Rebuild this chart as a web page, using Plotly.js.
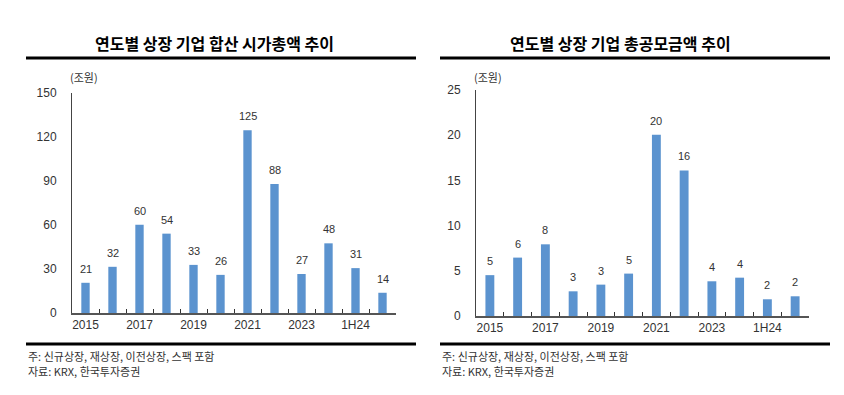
<!DOCTYPE html>
<html>
<head>
<meta charset="utf-8">
<script src="https://cdn.plot.ly/plotly-3.0.1.min.js"></script>
<style>html,body{margin:0;padding:0;background:#fff;}#chart{width:844px;height:395px;}</style>
</head>
<body>
<div id="chart"></div>
<script>
// ---- data ----
const categories = ['2015','2016','2017','2018','2019','2020','2021','2022','2023','2024','1H24','1H25'];
const tickLabels = ['2015','','2017','','2019','','2021','','2023','','1H24',''];
const marketCap = [20.6, 31.5, 60.2, 54.1, 32.8, 26.0, 124.6, 88.0, 26.6, 47.5, 30.6, 13.8];
const ipoAmount = [4.52, 6.46, 7.93, 2.73, 3.47, 4.69, 20.04, 16.1, 3.84, 4.24, 1.85, 2.18];
const leftTitle = '연도별 상장 기업 합산 시가총액 추이';
const rightTitle = '연도별 상장 기업 총공모금액 추이';
const unitLabel = '(조원)';
const note1 = '주: 신규상장, 재상장, 이전상장, 스팩 포함';
const note2 = '자료: KRX, 한국투자증권';

const BAR = '#5b93cf';
const NUM_FONT = 'Liberation Sans, Arial, sans-serif';
const KR_FONT = 'Noto Sans CJK KR, sans-serif';

const traces = [
  {type:'bar', x:categories, y:marketCap, xaxis:'x', yaxis:'y', width:0.31,
   marker:{color:BAR}, hoverinfo:'skip'},
  {type:'bar', x:categories, y:ipoAmount, xaxis:'x2', yaxis:'y2', width:0.32,
   marker:{color:BAR}, hoverinfo:'skip'}
];

const idx = categories.map((c,i)=>i);

function xAxis(domain, anchor){
  return {domain:domain, anchor:anchor, type:'category', autorange:false,
    range:[-0.5, categories.length-0.5],
    categoryorder:'array', categoryarray:categories,
    tickmode:'array', tickvals:idx, ticktext:tickLabels, tickangle:0,
    tickson:'boundaries', ticks:'inside', ticklen:4, tickcolor:'#333', tickwidth:1,
    showline:true, linecolor:'#555', linewidth:1.5, showgrid:false, zeroline:false,
    tickfont:{family:NUM_FONT, size:12, color:'#333'}, fixedrange:true};
}
function yAxis(domain, anchor, range, dtick){
  return {domain:domain, anchor:anchor, range:range, autorange:false, dtick:dtick, tick0:0,
    showline:true, linecolor:'#444', linewidth:1, showgrid:false, zeroline:false,
    ticks:'', ticklabelstandoff:12,
    tickfont:{family:NUM_FONT, size:12, color:'#333'}, fixedrange:true};
}

const annotations = [];
marketCap.forEach((v,i)=>annotations.push({x:i, y:v, xref:'x', yref:'y',
  text:String(Math.round(v)), showarrow:false, yshift:14,
  font:{family:NUM_FONT, size:11, color:'#333'}}));
ipoAmount.forEach((v,i)=>annotations.push({x:i, y:v, xref:'x2', yref:'y2',
  text:String(Math.round(v)), showarrow:false, yshift:14,
  font:{family:NUM_FONT, size:11, color:'#333'}}));

annotations.push(
  {xref:'paper', yref:'paper', x:0.2536, y:1-43/395, text:'<b>'+leftTitle+'</b>', showarrow:false,
   xanchor:'center', yanchor:'middle', font:{family:KR_FONT, size:16, color:'#000'}},
  {xref:'paper', yref:'paper', x:0.7346, y:1-43/395, text:'<b>'+rightTitle+'</b>', showarrow:false,
   xanchor:'center', yanchor:'middle', font:{family:KR_FONT, size:16, color:'#000'}},
  {xref:'paper', yref:'paper', x:68/844, y:1-77/395, text:unitLabel, showarrow:false,
   xanchor:'left', yanchor:'middle', font:{family:KR_FONT, size:11, color:'#333'}},
  {xref:'paper', yref:'paper', x:472/844, y:1-77/395, text:unitLabel, showarrow:false,
   xanchor:'left', yanchor:'middle', font:{family:KR_FONT, size:11, color:'#333'}},
  {xref:'paper', yref:'paper', x:26/844, y:1-356/395, text:note1, showarrow:false,
   xanchor:'left', yanchor:'middle', font:{family:KR_FONT, size:11, color:'#333'}},
  {xref:'paper', yref:'paper', x:26/844, y:1-371/395, text:note2, showarrow:false,
   xanchor:'left', yanchor:'middle', font:{family:KR_FONT, size:11, color:'#333'}},
  {xref:'paper', yref:'paper', x:440/844, y:1-356/395, text:note1, showarrow:false,
   xanchor:'left', yanchor:'middle', font:{family:KR_FONT, size:11, color:'#333'}},
  {xref:'paper', yref:'paper', x:440/844, y:1-371/395, text:note2, showarrow:false,
   xanchor:'left', yanchor:'middle', font:{family:KR_FONT, size:11, color:'#333'}}
);

function hline(x0,x1,ypx){
  return {type:'line', xref:'paper', yref:'paper', x0:x0/844, x1:x1/844,
          y0:1-ypx/395, y1:1-ypx/395, line:{color:'#000', width:3}};
}
const shapes = [hline(26,416,58), hline(440,830,58), hline(26,416,344), hline(440,830,344)];

const layout = {
  width:844, height:395, margin:{l:0,r:0,t:0,b:0},
  paper_bgcolor:'#fff', plot_bgcolor:'#fff', showlegend:false, bargap:0.5,
  xaxis: xAxis([72/844, 396/844], 'y'),
  yaxis: yAxis([1-313/395, 1-93/395], 'x', [0,150], 30),
  xaxis2: xAxis([476/844, 809/844], 'y2'),
  yaxis2: yAxis([1-316/395, 1-90/395], 'x2', [0,25], 5),
  annotations: annotations, shapes: shapes
};

Plotly.newPlot('chart', traces, layout, {staticPlot:true, displayModeBar:false});
</script>
</body>
</html>
